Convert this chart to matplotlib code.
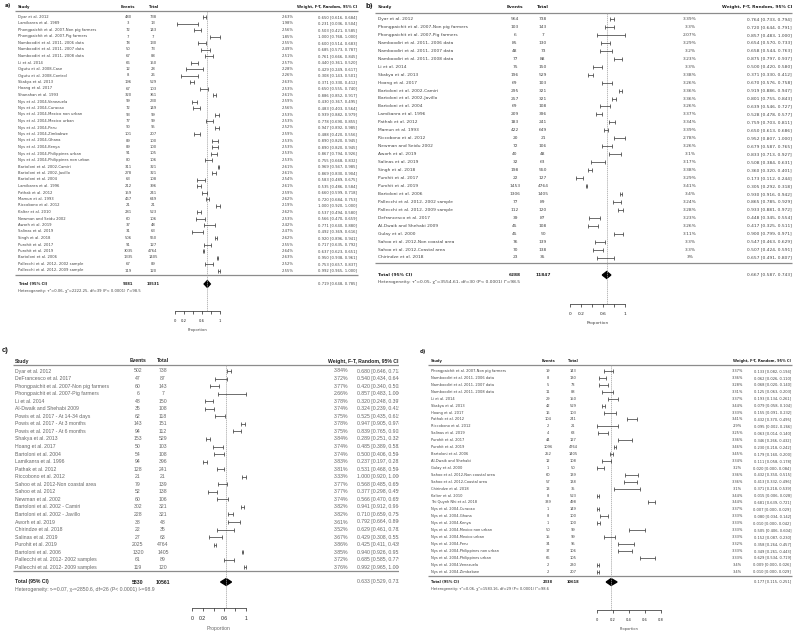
import matplotlib.pyplot as plt
from matplotlib.patches import Polygon
import numpy as np

# =====================================================
# Data
# =====================================================

# ---------- a) ----------
studies_a = [
    "Dyar et al. 2012", "Lamikanra et al. 1989",
    "Phongpaichit et al. 2007-Non pig farmers", "Phongpaichit et al. 2007-Pig farmers",
    "Namboodiri et al. 2011- 2006 data", "Namboodiri et al. 2011- 2007 data",
    "Namboodiri et al. 2011- 2008 data", "Li et al. 2014",
    "Ogutu et al. 2008-Case", "Ogutu et al. 2008-Control",
    "Skakya et al. 2013", "Hoang et al. 2017", "Shanahan et al. 1993",
    "Nys et al. 2004-Venezuela", "Nys et al. 2004-Curacao",
    "Nys et al. 2004-Mexico non urban", "Nys et al. 2004-Mexico urban",
    "Nys et al. 2004-Peru", "Nys et al. 2004-Zimbabwe", "Nys et al. 2004-Ghana",
    "Nys et al. 2004-Kenya", "Nys et al. 2004-Philippines urban",
    "Nys et al. 2004-Philippines non urban", "Bartoloni et al. 2002-Camiri",
    "Bartoloni et al. 2002-Javillo", "Bartoloni et al. 2004",
    "Lamikanra et al. 1996", "Pathak et al. 2012", "Mamun et al. 1993",
    "Riccobono et al. 2012", "Kalter et al. 2010", "Newman and Seidu 2002",
    "Aworh et al. 2019", "Salinas et al. 2019", "Singh et al. 2018",
    "Purohit et al. 2017", "Purohit et al. 2019", "Bartoloni et al. 2006",
    "Pallecchi et al. 2012- 2002 sample", "Pallecchi et al. 2012- 2009 sample",
]
events_a = [480, 3, 72, 7, 78, 50, 67, 66, 12, 8, 196, 67, 320, 99, 72, 93, 77, 90,
            101, 89, 89, 91, 80, 311, 278, 63, 212, 159, 467, 21, 281, 60, 37, 31,
            506, 91, 3035, 1335, 67, 119]
totals_a = [738, 13, 143, 7, 130, 73, 88, 150, 28, 26, 529, 103, 361, 230, 149, 99,
            99, 95, 207, 100, 100, 105, 106, 321, 321, 108, 396, 241, 649, 21, 523,
            106, 48, 63, 550, 127, 4764, 1405, 89, 120]
weights_a = [2.63, 1.98, 2.56, 1.85, 2.55, 2.49, 2.51, 2.57, 2.28, 2.26, 2.63, 2.53,
             2.61, 2.59, 2.56, 2.53, 2.53, 2.52, 2.59, 2.53, 2.53, 2.53, 2.53, 2.61,
             2.61, 2.54, 2.61, 2.59, 2.62, 2.19, 2.62, 2.53, 2.42, 2.47, 2.62, 2.55,
             2.64, 2.63, 2.52, 2.55]
est_a = [0.650, 0.231, 0.503, 1.000, 0.600, 0.685, 0.761, 0.440, 0.429, 0.308,
         0.371, 0.650, 0.886, 0.430, 0.483, 0.939, 0.778, 0.947, 0.488, 0.890,
         0.890, 0.867, 0.755, 0.969, 0.869, 0.583, 0.535, 0.660, 0.720, 1.000,
         0.537, 0.566, 0.771, 0.492, 0.920, 0.717, 0.637, 0.950, 0.753, 0.992]
lo_a = [0.616, 0.036, 0.421, 0.768, 0.514, 0.573, 0.666, 0.361, 0.249, 0.143,
        0.330, 0.555, 0.852, 0.367, 0.403, 0.882, 0.690, 0.892, 0.420, 0.820,
        0.820, 0.794, 0.668, 0.947, 0.830, 0.489, 0.486, 0.599, 0.684, 0.920,
        0.494, 0.470, 0.640, 0.369, 0.896, 0.635, 0.623, 0.938, 0.657, 0.965]
hi_a = [0.684, 0.504, 0.585, 1.000, 0.683, 0.787, 0.845, 0.520, 0.617, 0.501,
        0.412, 0.740, 0.917, 0.495, 0.564, 0.979, 0.855, 0.985, 0.556, 0.945,
        0.945, 0.926, 0.832, 0.985, 0.904, 0.675, 0.584, 0.718, 0.753, 1.000,
        0.580, 0.659, 0.880, 0.616, 0.941, 0.792, 0.651, 0.961, 0.837, 1.000]
total_a = (9381, 13531, 0.719, 0.648, 0.785)
het_a = "Heterogeneity: τ²=0.06, χ²=2222.25, df=39 (P< 0.0001) I²=98.5"

# ---------- b) ----------
studies_b = [
    "Dyar et al. 2012", "Phongpaichit et al. 2007-Non pig farmers",
    "Phongpaichit et al. 2007-Pig farmers", "Namboodiri et al. 2011- 2006 data",
    "Namboodiri et al. 2011- 2007 data", "Namboodiri et al. 2011- 2008 data",
    "Li et al. 2014", "Skakya et al. 2013", "Hoang et al. 2017",
    "Bartoloni et al. 2002-Camiri", "Bartoloni et al. 2002-Javillo",
    "Bartoloni et al. 2004", "Lamikanra et al. 1996", "Pathak et al. 2012",
    "Mamun et al. 1993", "Riccobono et al. 2012", "Newman and Seidu 2002",
    "Aworh et al. 2019", "Salinas et al. 2019", "Singh et al. 2018",
    "Purohit et al. 2017", "Purohit et al. 2019", "Bartoloni et al. 2006",
    "Pallecchi et al. 2012- 2002 sample", "Pallecchi et al. 2012- 2009 sample",
    "Defrancesco et al. 2017", "Al-Dwaik and Shehabi 2009", "Gulay et al. 2000",
    "Sahoo et al. 2012-Non coastal area", "Sahoo et al. 2012-Coastal area",
    "Chirindze et al. 2018",
]
events_b = [564, 103, 6, 85, 48, 77, 75, 196, 69, 295, 257, 69, 209, 183, 422, 20,
            72, 40, 32, 198, 22, 1453, 1306, 77, 112, 39, 45, 45, 76, 70, 23]
totals_b = [738, 143, 7, 130, 73, 88, 150, 529, 103, 321, 321, 108, 396, 241, 649,
            21, 106, 48, 63, 550, 127, 4764, 1405, 89, 120, 87, 108, 50, 139, 138, 35]
weights_b = [3.39, 3.3, 2.07, 3.29, 3.2, 3.23, 3.3, 3.38, 3.26, 3.36, 3.36, 3.26,
             3.37, 3.34, 3.39, 2.78, 3.26, 3.1, 3.17, 3.38, 3.29, 3.41, 3.4, 3.24,
             3.28, 3.23, 3.26, 3.11, 3.3, 3.3, 3.0]
est_b = [0.764, 0.720, 0.857, 0.654, 0.658, 0.875, 0.500, 0.371, 0.670, 0.919,
         0.801, 0.639, 0.528, 0.759, 0.650, 0.952, 0.679, 0.833, 0.508, 0.360,
         0.173, 0.305, 0.930, 0.865, 0.933, 0.448, 0.417, 0.900, 0.547, 0.507, 0.657]
lo_b = [0.733, 0.644, 0.483, 0.570, 0.544, 0.797, 0.420, 0.330, 0.576, 0.886,
        0.755, 0.546, 0.478, 0.703, 0.613, 0.807, 0.587, 0.713, 0.384, 0.320,
        0.112, 0.292, 0.916, 0.785, 0.881, 0.345, 0.325, 0.799, 0.463, 0.424, 0.491]
hi_b = [0.794, 0.791, 1.000, 0.733, 0.763, 0.937, 0.580, 0.412, 0.758, 0.947,
        0.843, 0.727, 0.577, 0.811, 0.686, 1.000, 0.765, 0.927, 0.631, 0.401,
        0.244, 0.318, 0.942, 0.929, 0.972, 0.554, 0.511, 0.971, 0.629, 0.591, 0.807]
total_b = (6288, 11847, 0.667, 0.587, 0.743)
het_b = "Heterogeneity: τ²=0.05, χ²=3554.61, df=30 (P< 0.0001) I²=98.5"

# ---------- c) ----------
studies_c = [
    "Dyar et al. 2012", "DeFrancesco et al. 2017",
    "Phongpaichit et al. 2007-Non pig farmers", "Phongpaichit et al. 2007-Pig farmers",
    "Li et al. 2014", "Al-Dwaik and Shehabi 2009",
    "Powis et al. 2017 - At 14-34 days", "Powis et al. 2017 - At 3 months",
    "Powis et al. 2017 - At 6 months", "Shakya et al. 2013", "Hoang et al. 2017",
    "Bartoloni et al. 2004", "Lamikanra et al. 1996", "Pathak et al. 2012",
    "Riccobono et al. 2012", "Sahoo et al. 2012-Non coastal area",
    "Sahoo et al. 2012", "Newman et al. 2002", "Bartoloni et al. 2002 - Camiri",
    "Bartoloni et al. 2002 - Javillo", "Aworh et al. 2019", "Chirindze et al. 2018",
    "Salinas et al. 2019", "Purohit et al. 2019", "Bartoloni et al. 2006",
    "Pallecchi et al. 2012- 2002 samples", "Pallecchi et al. 2012- 2009 samples",
]
events_c = [502, 47, 60, 6, 48, 35, 62, 143, 94, 153, 50, 54, 94, 128, 21, 79, 52,
            60, 302, 228, 38, 22, 27, 2025, 1320, 61, 119]
totals_c = [738, 87, 143, 7, 150, 108, 118, 151, 112, 529, 103, 108, 396, 241, 21,
            139, 138, 106, 321, 321, 48, 35, 63, 4764, 1405, 89, 120]
weights_c = [3.84, 3.72, 3.77, 2.66, 3.78, 3.74, 3.75, 3.78, 3.75, 3.84, 3.74, 3.74,
             3.83, 3.81, 3.33, 3.77, 3.77, 3.74, 3.82, 3.82, 3.61, 3.52, 3.67, 3.86,
             3.85, 3.72, 3.76]
est_c = [0.680, 0.540, 0.420, 0.857, 0.320, 0.324, 0.525, 0.947, 0.839, 0.289,
         0.485, 0.500, 0.237, 0.531, 1.000, 0.568, 0.377, 0.566, 0.941, 0.710,
         0.792, 0.629, 0.429, 0.425, 0.940, 0.685, 0.992]
lo_c = [0.646, 0.434, 0.340, 0.483, 0.248, 0.239, 0.435, 0.905, 0.765, 0.251,
        0.389, 0.406, 0.197, 0.468, 0.920, 0.485, 0.298, 0.470, 0.912, 0.659,
        0.664, 0.461, 0.308, 0.411, 0.926, 0.585, 0.965]
hi_c = [0.713, 0.644, 0.502, 1.000, 0.397, 0.415, 0.615, 0.978, 0.903, 0.329,
        0.582, 0.594, 0.281, 0.594, 1.000, 0.650, 0.459, 0.659, 0.964, 0.758,
        0.896, 0.782, 0.553, 0.439, 0.951, 0.779, 1.000]
total_c = (5830, 10561, 0.633, 0.529, 0.732)
het_c = "Heterogeneity: τ²=0.07, χ²=2850.6, df=26 (P< 0.0001) I²=98.9"

# ---------- d) ----------
studies_d = [
    "Phongpaichit et al. 2007-Non pig farmers", "Namboodiri et al. 2011- 2006 data",
    "Namboodiri et al. 2011- 2007 data", "Namboodiri et al. 2011- 2008 data",
    "Li et al. 2014", "Skakya et al. 2013", "Hoang et al. 2017", "Pathak et al. 2012",
    "Riccobono et al. 2012", "Salinas et al. 2019", "Purohit et al. 2017",
    "Purohit et al. 2019", "Bartoloni et al. 2006", "Al-Dwaik and Shehabi",
    "Gulay et al. 2000", "Sahoo et al. 2012-Non coastal area",
    "Sahoo et al. 2012-Coastal area", "Chirindze et al. 2018", "Kalter et al. 2010",
    "Thi Quynh Nhi et al. 2018", "Nys et al. 2004-Curacao", "Nys et al. 2004-Ghana",
    "Nys et al. 2004-Kenya", "Nys et al. 2004-Mexico non urban",
    "Nys et al. 2004-Mexico urban", "Nys et al. 2004-Peru",
    "Nys et al. 2004-Philippines non urban", "Nys et al. 2004-Philippines urban",
    "Nys et al. 2004-Venezuela", "Nys et al. 2004-Zimbabwe",
]
events_d = [19, 8, 5, 11, 29, 42, 16, 104, 2, 4, 44, 1096, 252, 12, 1, 60, 57, 13, 8,
            339, 1, 8, 1, 50, 15, 34, 37, 66, 2, 2]
totals_d = [143, 130, 73, 88, 150, 529, 103, 241, 21, 63, 127, 4764, 1405, 108, 50,
            139, 138, 35, 523, 498, 149, 100, 100, 99, 99, 95, 106, 105, 230, 207]
weights_d = [3.37, 3.36, 3.28, 3.31, 3.37, 3.44, 3.33, 3.41, 2.9, 3.25, 3.36, 3.46,
             3.45, 3.34, 3.2, 3.36, 3.36, 3.1, 3.44, 3.44, 3.37, 3.33, 3.33, 3.33,
             3.33, 3.32, 3.33, 3.33, 3.4, 3.4]
est_d = [0.133, 0.062, 0.068, 0.125, 0.193, 0.079, 0.155, 0.432, 0.095, 0.063,
         0.346, 0.230, 0.179, 0.111, 0.020, 0.432, 0.413, 0.371, 0.015, 0.681,
         0.007, 0.080, 0.010, 0.505, 0.152, 0.358, 0.349, 0.629, 0.009, 0.010]
lo_d = [0.082, 0.026, 0.020, 0.063, 0.134, 0.058, 0.091, 0.370, 0.002, 0.014,
        0.266, 0.218, 0.160, 0.058, 0.000, 0.350, 0.332, 0.218, 0.006, 0.639,
        0.000, 0.034, 0.000, 0.406, 0.087, 0.264, 0.261, 0.534, 0.000, 0.000]
hi_d = [0.194, 0.110, 0.140, 0.203, 0.261, 0.104, 0.232, 0.495, 0.266, 0.140,
        0.432, 0.242, 0.200, 0.178, 0.084, 0.515, 0.496, 0.539, 0.028, 0.721,
        0.029, 0.142, 0.042, 0.604, 0.230, 0.457, 0.443, 0.719, 0.026, 0.029]
total_d = (2338, 10618, 0.177, 0.115, 0.251)
het_d = "Heterogeneity: τ²=0.06, χ²=1583.16, df=29 (P< 0.0001) I²=98.6"

# =====================================================
# Layout (pixel positions of each panel)
# =====================================================

W, H = 793, 634
RULE = "#8c8c8c"

panels = {
    "a": dict(box=(0, 0, 362, 340), label=(5, 5), font="DejaVu Sans", fs=2.7,
              color="#444444",
              study_x=18, head_y=7, line_y=11, row0=17, dy=6.5, line_x=(15, 358),
              events_x=128, totals_x=153, weight_x=288, ci_x=357, ci_ha="right",
              bottom_y=275, total_y=284, het_y=291, axis_y=311, ax_x=(175, 220),
              xmax=1.0, ticklabels=["0", "0.2", "", "0.6", "", "1"], clip=False),
    "b": dict(box=(362, 0, 793, 340), label=(365, 5), font="DejaVu Sans", fs=3.2,
              color="#444444",
              study_x=378, head_y=7, line_y=13, row0=19, dy=7.95, line_x=(375, 792),
              events_x=515, totals_x=543, weight_x=690, ci_x=792, ci_ha="right",
              bottom_y=263, total_y=275, het_y=282, axis_y=304, ax_x=(570, 625),
              xmax=1.0, ticklabels=["0", "0.2", "", "0.6", "", "1"], clip=False),
    "c": dict(box=(0, 340, 399, 634), label=(2, 350), font="Liberation Sans", fs=3.7,
              color="#666666",
              study_x=15, head_y=361, line_y=365, row0=371, dy=7.55, line_x=(13, 399),
              events_x=138, totals_x=163, weight_x=341, ci_x=357, ci_ha="left",
              head_ci_x=328, bottom_y=571, total_y=582, het_y=589, axis_y=608,
              ax_x=(192, 246), xmax=1.0,
              ticklabels=["0", "0.2", "", "0.6", "", "1"], clip=True),
    "d": dict(box=(412, 340, 793, 634), label=(420, 350), font="DejaVu Sans", fs=2.6,
              color="#444444",
              study_x=431, head_y=361, line_y=365, row0=371, dy=6.92, line_x=(428, 792),
              events_x=548, totals_x=573, weight_x=737, ci_x=791, ci_ha="right",
              bottom_y=576, total_y=582, het_y=589, axis_y=610, ax_x=(597, 661),
              xmax=0.8, ticklabels=["0", "0.2", "0.4", "0.6", "0.8"], clip=False),
}

fig = plt.figure(figsize=(W / 100, H / 100), dpi=100)


def fig_rect(x0, y0, x1, y1):
    return [x0 / W, 1 - y1 / H, (x1 - x0) / W, (y1 - y0) / H]


def draw_panel(key, studies, events, totals, weights, est, lo, hi, total, het):
    p = panels[key]
    x0, y0, x1, y1 = p["box"]
    fam = [p["font"], "DejaVu Sans"]
    fs = p["fs"]

    # text layer in pixel coordinates
    bg = fig.add_axes(fig_rect(x0, y0, x1, y1))
    bg.set_xlim(x0, x1)
    bg.set_ylim(y1, y0)
    bg.axis("off")

    def put(x, y, s, ha="left", bold=False, size=None, color=None):
        bg.text(x, y, s, ha=ha, va="center", fontsize=size or fs, family=fam,
                fontweight="bold" if bold else "normal",
                color=color or ("#222222" if bold else p["color"]),
                clip_on=p["clip"])

    put(p["label"][0], p["label"][1] + 1, f"{key})", bold=True, size=fs * 1.5)

    # header
    put(p["study_x"], p["head_y"], "Study", bold=True)
    put(p["events_x"], p["head_y"], "Events", ha="center", bold=True)
    put(p["totals_x"], p["head_y"], "Total", ha="center", bold=True)
    head_ci = "Weight, F-T, Random, 95% CI"
    if p["ci_ha"] == "right":
        put(p["ci_x"], p["head_y"], head_ci, ha="right", bold=True)
    else:
        put(p["head_ci_x"], p["head_y"], head_ci, bold=True)

    bg.plot(p["line_x"], [p["line_y"]] * 2, color=RULE, lw=0.9,
            solid_capstyle="butt", clip_on=p["clip"])
    bg.plot(p["line_x"], [p["bottom_y"]] * 2, color=RULE, lw=0.9,
            solid_capstyle="butt", clip_on=p["clip"])

    rows = p["row0"] + p["dy"] * np.arange(len(studies))
    for i, y in enumerate(rows):
        put(p["study_x"], y, studies[i])
        put(p["events_x"], y, str(events[i]), ha="center")
        put(p["totals_x"], y, str(totals[i]), ha="center")
        put(p["weight_x"], y, f"{weights[i]:g}%", ha="center")
        put(p["ci_x"], y, f"{est[i]:.3f} [{lo[i]:.3f}, {hi[i]:.3f}]", ha=p["ci_ha"])

    ev, tot, te, tl, th = total
    put(p["study_x"], p["total_y"], "Total (95% CI)", bold=True)
    put(p["events_x"], p["total_y"], str(ev), ha="center", bold=True)
    put(p["totals_x"], p["total_y"], str(tot), ha="center", bold=True)
    put(p["ci_x"], p["total_y"] - 1, f"{te:.3f} [{tl:.3f}, {th:.3f}]", ha=p["ci_ha"])
    put(p["study_x"], p["het_y"], het)

    # forest plot
    ax = fig.add_axes(fig_rect(p["ax_x"][0], p["line_y"], p["ax_x"][1], p["axis_y"]))
    ax.patch.set_alpha(0)
    ax.set_xlim(0, p["xmax"])
    ax.set_ylim(p["axis_y"], p["line_y"])
    for side in ["top", "left", "right"]:
        ax.spines[side].set_visible(False)
    ax.spines["bottom"].set_linewidth(0.5)
    ax.spines["bottom"].set_color("#222222")
    ax.set_yticks([])
    ax.set_xticks(np.arange(0, p["xmax"] + 0.01, 0.2))
    ax.set_xticklabels(p["ticklabels"])
    ax.tick_params(axis="x", length=2.5, width=0.5, pad=3.5, labelsize=fs,
                   colors="#222222")
    for lab in ax.get_xticklabels():
        lab.set_family(fam)
    ax.set_xlabel("Proportion", fontsize=fs, family=fam, labelpad=3.5,
                  color=p["color"])

    ax.axvline(te, color="#a0a0a0", lw=0.5, ls=(0, (2, 1)))

    est = np.array(est)
    err = [est - np.array(lo), np.array(hi) - est]
    eb = ax.errorbar(est, rows, xerr=err, fmt="none", ecolor="#333333",
                     elinewidth=0.5, capsize=1.3, capthick=0.5)
    for art in eb.lines[1] + eb.lines[2]:
        art.set_clip_on(False)

    ty = p["total_y"]
    ax.add_patch(Polygon([(tl, ty), (te, ty - 3.4), (th, ty), (te, ty + 3.4)],
                         closed=True, color="black", clip_on=False))


draw_panel("a", studies_a, events_a, totals_a, weights_a, est_a, lo_a, hi_a, total_a, het_a)
draw_panel("b", studies_b, events_b, totals_b, weights_b, est_b, lo_b, hi_b, total_b, het_b)
draw_panel("c", studies_c, events_c, totals_c, weights_c, est_c, lo_c, hi_c, total_c, het_c)
draw_panel("d", studies_d, events_d, totals_d, weights_d, est_d, lo_d, hi_d, total_d, het_d)

fig.savefig("out.png", dpi=100, facecolor="white")
